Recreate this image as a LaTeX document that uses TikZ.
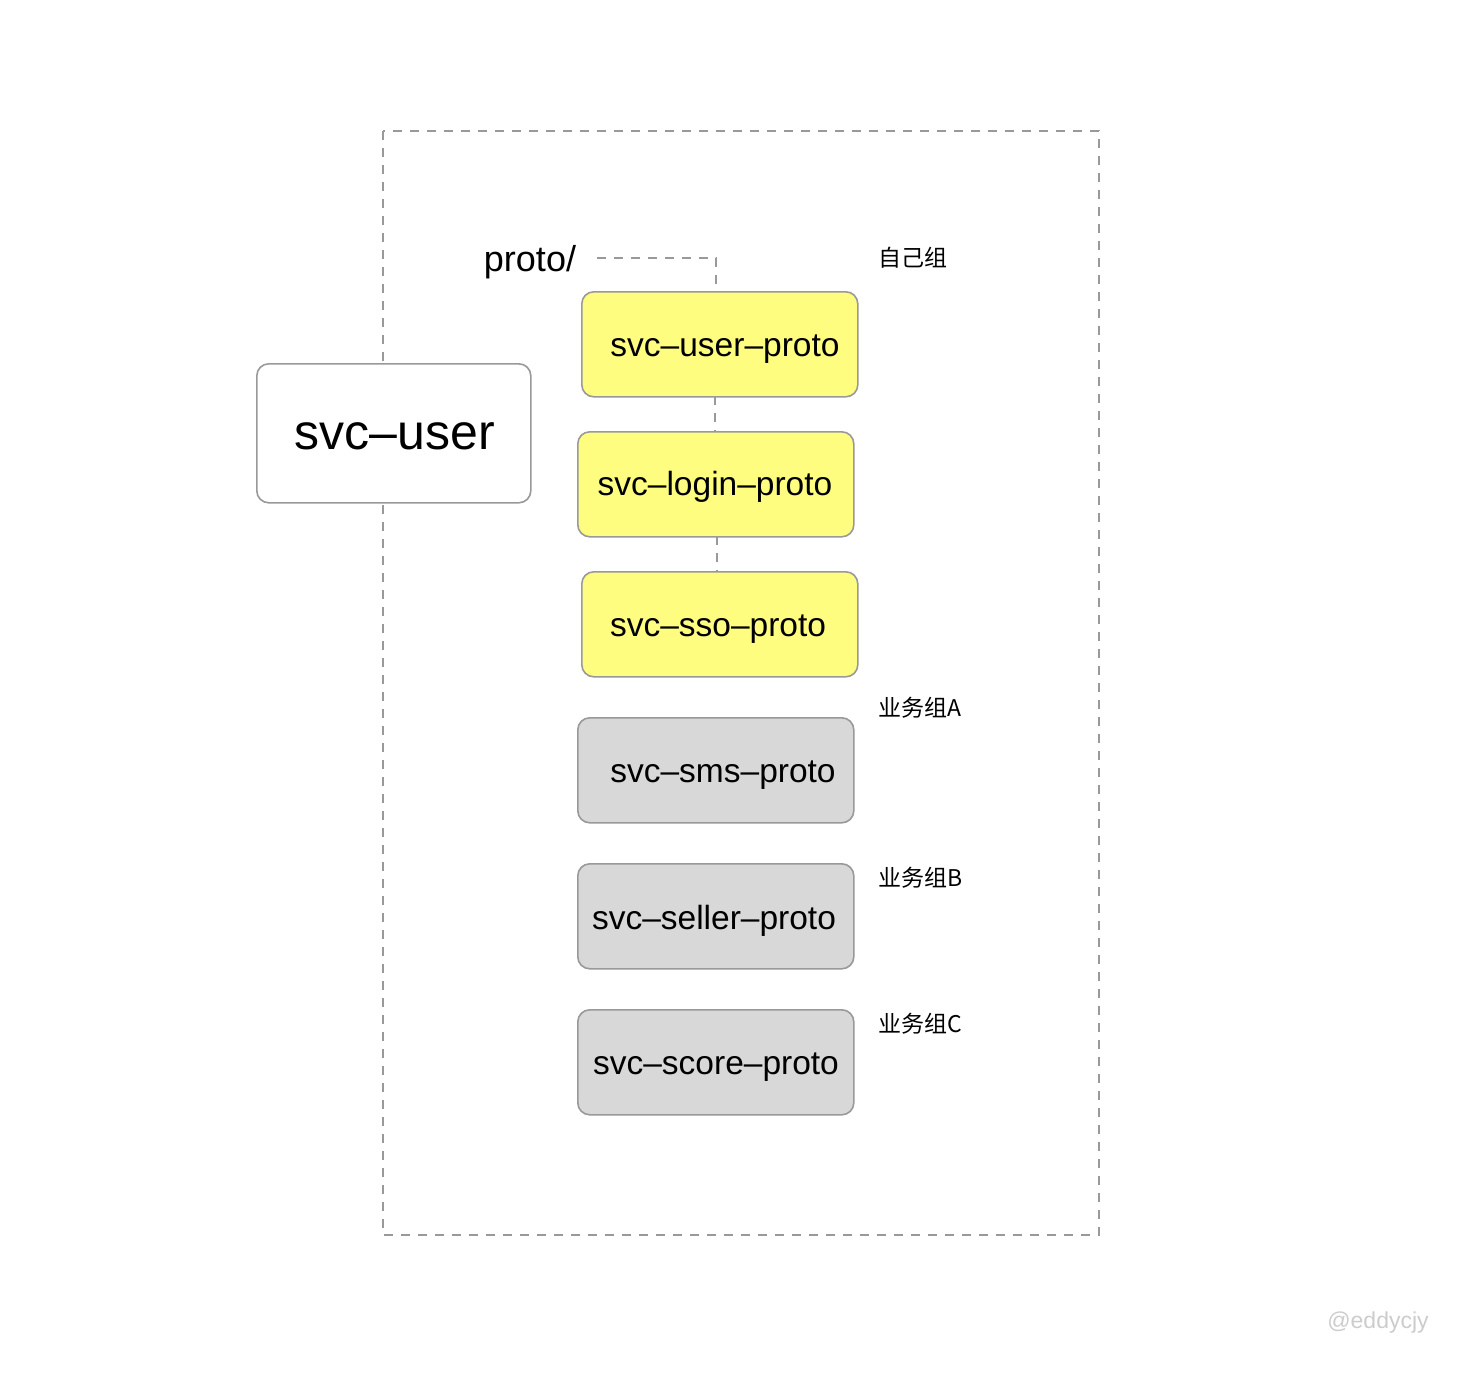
\documentclass[tikz,border=0pt]{standalone}
\usepackage{fontspec}
\setmainfont{Liberation Sans}
\newfontfamily\cjk{Noto Sans CJK SC}
\definecolor{bordergray}{HTML}{999999}
\definecolor{dashgray}{HTML}{999999}
\definecolor{protoyellow}{HTML}{FFFD80}
\definecolor{protogray}{HTML}{D8D8D8}
\definecolor{markgray}{HTML}{CCCCCC}
\begin{document}
\begin{tikzpicture}[x=1pt,y=-1pt,
  boxbase/.style={draw=bordergray, line width=1.6pt, rounded corners=12pt, inner sep=0pt, anchor=north west},
  ybox/.style={boxbase, fill=protoyellow, minimum width=276pt, minimum height=105pt},
  gbox/.style={boxbase, fill=protogray, minimum width=276pt, minimum height=105pt},
  dline/.style={draw=dashgray, line width=1.6pt, dash pattern=on 9pt off 8pt},
  boxtext/.style={font=\fontsize{33.5}{40}\selectfont},
  grouplabel/.style={font=\cjk\fontsize{23}{28}\selectfont, anchor=west}
]
\useasboundingbox (0,0) rectangle (1482,1376);
\fill[white] (0,0) rectangle (1482,1376);
% outer dashed frame
\draw[dline] (383,131) rectangle (1099,1235);
% svc-user box
\node[boxbase, fill=white, minimum width=274pt, minimum height=139pt] (svcuser) at (256,363) {};
\node[font=\fontsize{50}{58}\selectfont] (svcusert) at (395,436) {svc–user};
% proto boxes
\node[ybox] (b1) at (581,291) {};
\node[ybox] (b2) at (577,431) {};
\node[ybox] (b3) at (581,571) {};
\node[gbox] (b4) at (577,717) {};
\node[gbox] (b5) at (577,863) {};
\node[gbox] (b6) at (577,1009) {};
\node[boxtext] (t1) at (725,349) {svc–user–proto};
\node[boxtext] (t2) at (715,487) {svc–login–proto};
\node[boxtext] (t3) at (718,629) {svc–sso–proto};
\node[boxtext] (t4) at (723,775) {svc–sms–proto};
\node[boxtext] (t5) at (714,921) {svc–seller–proto};
\node[boxtext] (t6) at (716,1067) {svc–score–proto};
% proto/ label and connectors
\node[font=\fontsize{36}{43}\selectfont] (proto) at (530,262) {proto/};
\coordinate (corner) at (716,258);
\draw[dline] (597,258) -- (corner) -- (corner |- b1.north);
\draw[dline] (715,396) -- (715,431);
\draw[dline] (717,536) -- (717,571);
% group labels
\node[grouplabel] (g0) at (875,258) {自己组};
\node[grouplabel] (g1) at (875,708) {业务组A};
\node[grouplabel] (g2) at (875,878) {业务组B};
\node[grouplabel] (g3) at (875,1024) {业务组C};
% watermark
\node[font=\fontsize{23}{28}\selectfont, text=markgray] (wm) at (1378,1323) {@eddycjy};
\end{tikzpicture}
\end{document}
